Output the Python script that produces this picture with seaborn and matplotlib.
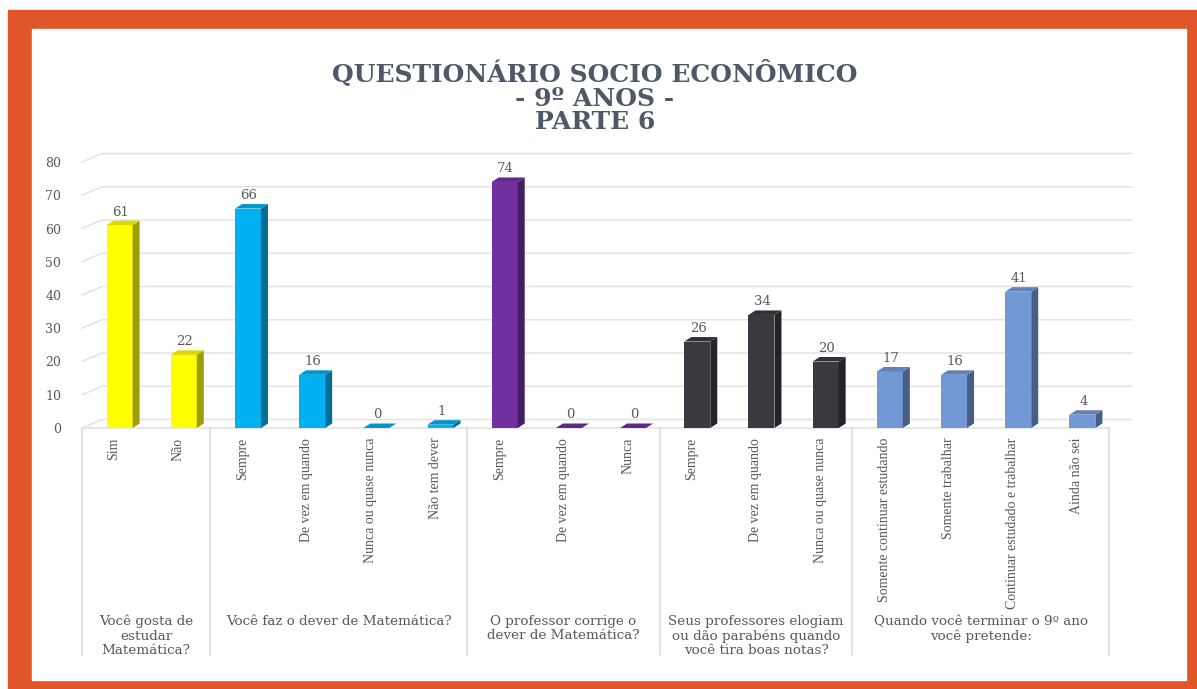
import matplotlib
matplotlib.use("Agg")
import matplotlib.pyplot as plt
import matplotlib.colors as mcolors
from matplotlib.patches import Polygon, Rectangle
import seaborn as sns
import pandas as pd

# ---- data -------------------------------------------------------------
questions = [
    "Você gosta de\nestudar\nMatemática?",
    "Você faz o dever de Matemática?",
    "O professor corrige o\ndever de Matemática?",
    "Seus professores elogiam\nou dão parabéns quando\nvocê tira boas notas?",
    "Quando você terminar o 9º ano\nvocê pretende:",
]
answers = [
    ["Sim", "Não"],
    ["Sempre", "De vez em quando", "Nunca ou quase nunca", "Não tem dever"],
    ["Sempre", "De vez em quando", "Nunca"],
    ["Sempre", "De vez em quando", "Nunca ou quase nunca"],
    ["Somente continuar estudando", "Somente trabalhar",
     "Continuar estudado e trabalhar", "Ainda não sei"],
]
counts = [
    [61, 22],
    [66, 16, 0, 1],
    [74, 0, 0],
    [26, 34, 20],
    [17, 16, 41, 4],
]
y_ticks = [0, 10, 20, 30, 40, 50, 60, 70, 80]
title_text = "QUESTIONÁRIO SOCIO ECONÔMICO\n- 9º ANOS -\nPARTE 6"

# ---- styles -----------------------------------------------------------
group_colors = ["#FFFF00", "#00B0F0", "#7030A0", "#393A3F", "#7398D6"]
text_gray = "#595959"
grid_gray = "#E3E3E3"
border_orange = "#E0552A"

rows = []
for gi, (q, ans, vals) in enumerate(zip(questions, answers, counts)):
    for a, v in zip(ans, vals):
        rows.append({"key": f"{gi}|{a}", "answer": a, "group": q, "count": v})
df = pd.DataFrame(rows)
n = len(df)

W, H = 1197, 689
fig = plt.figure(figsize=(W / 100, H / 100), dpi=100)
fig.patch.set_facecolor("white")

# frame: orange band with white panel
fig.patches.append(Rectangle((8 / W, 0), 1 - 8 / W, 1 - 10 / H,
                             transform=fig.transFigure, color=border_orange, zorder=-10))
fig.patches.append(Rectangle((32 / W, 1 - 680 / H), (1186 - 32) / W, (680 - 28.7) / H,
                             transform=fig.transFigure, color="white", zorder=-9))

ax_l, ax_r, ax_b, ax_t = 82, 1109, 428, 162
ax = fig.add_axes([ax_l / W, 1 - ax_b / H, (ax_r - ax_l) / W, (ax_b - ax_t) / H])
ax.set_facecolor("none")

palette = dict(zip(questions, group_colors))
sns.barplot(data=df, x="key", y="count", hue="group", palette=palette,
            dodge=False, width=0.405, legend=False, ax=ax, saturation=1,
            edgecolor="none", zorder=3)

ax.set_xlim(-0.5, n - 0.5)
ax.set_ylim(0, 80)

px_x = (ax_r - ax_l) / n          # pixels per category unit
px_y = (ax_b - ax_t) / 80.0       # pixels per value unit

# back-wall gridlines with the left wall diagonal
wall_dx, wall_dy = 20 / px_x, 8.5 / px_y
right_end = (1132 - ax_l) / px_x - 0.5
for v in y_ticks:
    ax.plot([-0.5, -0.5 + wall_dx, right_end], [v, v + wall_dy, v + wall_dy],
            color=grid_gray, lw=1.1, zorder=1, clip_on=False)
# floor front edge
ax.plot([-0.5, n - 0.5], [0, 0], color=grid_gray, lw=1.2, zorder=2, clip_on=False)

# 3D faces of bars
shift = 5.5 / px_x
bar_dx, bar_dy = 7 / px_x, 4.5 / px_y
for patch in ax.patches:
    patch.set_x(patch.get_x() + shift)
    x0, w, h = patch.get_x(), patch.get_width(), patch.get_height()
    base = mcolors.to_rgb(patch.get_facecolor())
    side = tuple(c * 0.62 for c in base)
    top = tuple(c * 0.85 for c in base)
    x1 = x0 + w
    ax.add_patch(Polygon([(x1, 0), (x1 + bar_dx, bar_dy), (x1 + bar_dx, h + bar_dy), (x1, h)],
                         closed=True, facecolor=side, edgecolor="none", zorder=3, clip_on=False))
    ax.add_patch(Polygon([(x0, h), (x1, h), (x1 + bar_dx, h + bar_dy), (x0 + bar_dx, h + bar_dy)],
                         closed=True, facecolor=top, edgecolor="none", zorder=4, clip_on=False))
    ax.annotate(f"{int(round(h))}", (x0 + w / 2 + bar_dx * 0.15, h + bar_dy),
                xytext=(0, 1.5), textcoords="offset points", ha="center", va="bottom",
                fontsize=9.5, color=text_gray, family="DejaVu Serif", zorder=5)

# axes styling
for s in ax.spines.values():
    s.set_visible(False)
ax.set_xlabel("")
ax.set_ylabel("")
ax.set_yticks(y_ticks)
ax.set_yticklabels([str(t) for t in y_ticks], family="DejaVu Serif", fontsize=9,
                   color=text_gray)
ax.tick_params(axis="y", length=0, pad=15)
ax.set_xticks(range(n))
ax.set_xticklabels(df["answer"], rotation=90, family="Liberation Serif", fontsize=10,
                   color=text_gray, va="top", ha="center")
ax.tick_params(axis="x", length=0, pad=7)
ax.grid(False)

# group separators and question labels
trans = ax.get_xaxis_transform()
sep_bottom = -(655 - ax_b) / (ax_b - ax_t)
label_top = -(615 - ax_b) / (ax_b - ax_t)
start = 0
bounds = [-0.5]
for q, vals in zip(questions, counts):
    end = start + len(vals)
    bounds.append(end - 0.5)
    ax.text((start + end - 1) / 2, label_top, q, transform=trans, ha="center", va="top",
            fontsize=9.7, color=text_gray, family="DejaVu Serif", linespacing=1.14)
    start = end
for b in bounds:
    ax.plot([b, b], [0, sep_bottom], transform=trans, color="#DADADA", lw=1.1,
            clip_on=False)

fig.text(595 / W, 1 - 60 / H, title_text, ha="center", va="top", fontsize=18,
         fontweight="bold", color="#4E5866", family="DejaVu Serif", linespacing=0.98)

fig.savefig("out.png", dpi=100)
